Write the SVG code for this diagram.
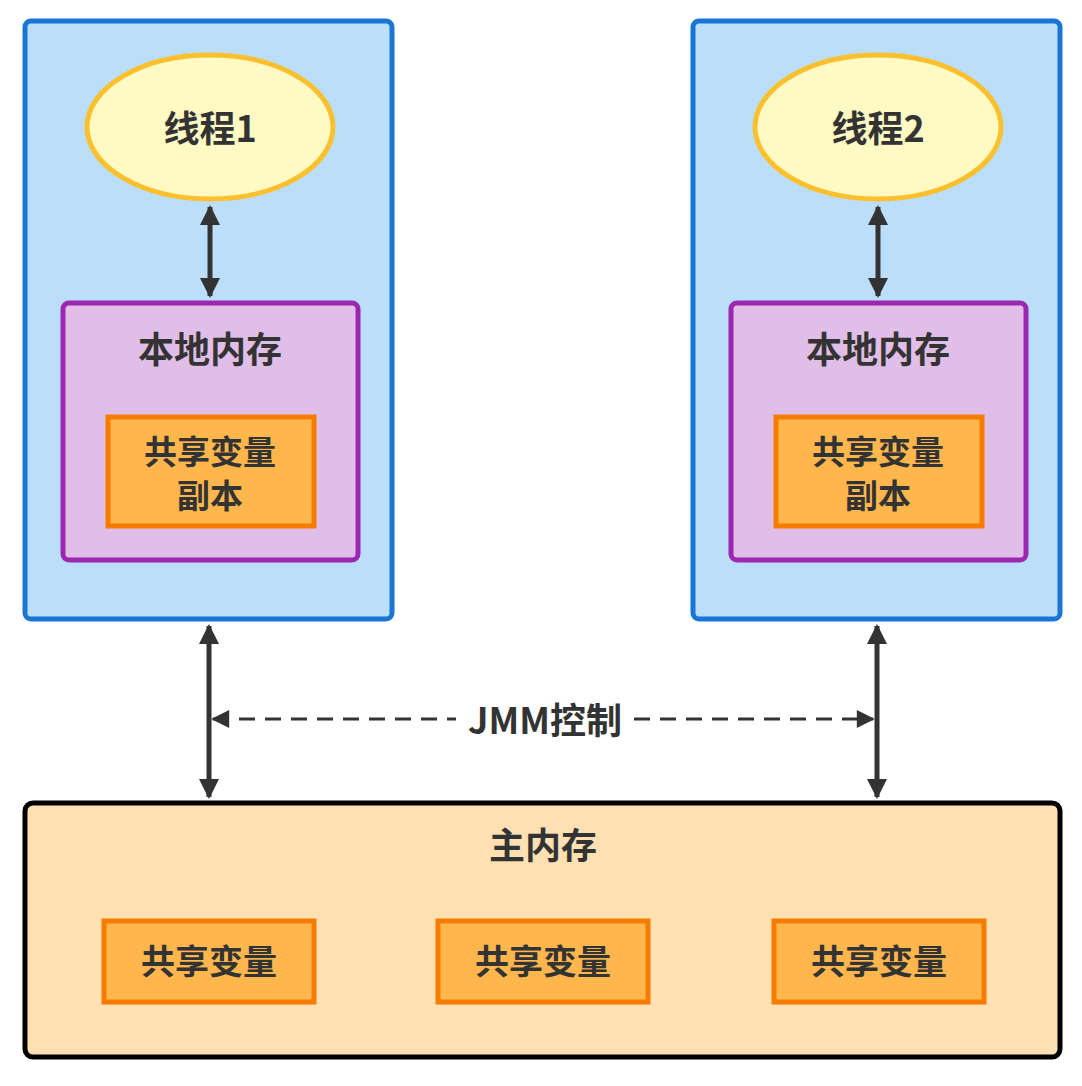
<svg xmlns="http://www.w3.org/2000/svg" width="1082" height="1086" viewBox="0 0 1082 1086">
<defs>
<style>
text{font-family:"Noto Sans CJK SC","Liberation Sans",sans-serif;font-weight:bold;fill:#333;text-anchor:middle;dominant-baseline:central}
.blue{fill:#bbdefb;stroke:#1976d2;stroke-width:5}
.purple{fill:#e1bee7;stroke:#9c27b0;stroke-width:5}
.org{fill:#ffb74d;stroke:#f57c00;stroke-width:5}
.ell{fill:#fff9c4;stroke:#fbc02d;stroke-width:5}
.ln{stroke:#333;stroke-width:5;fill:none}
.dash{stroke:#333;stroke-width:3;fill:none;stroke-dasharray:16 10}
</style>
<marker id="a" viewBox="0 0 10 10" refX="9" refY="5" markerWidth="4" markerHeight="4" orient="auto-start-reverse"><path d="M0,0L10,5L0,10z" fill="#333"/></marker>
<marker id="b" viewBox="0 0 10 10" refX="9" refY="5" markerWidth="8" markerHeight="6" orient="auto-start-reverse"><path d="M0,0L10,5L0,10z" fill="#333"/></marker>
</defs>
<g id="left">
<rect class="blue" x="25" y="21" width="367" height="598" rx="6"/>
<ellipse class="ell" cx="210" cy="127" rx="123" ry="72"/>
<text x="210" y="126" font-size="36">线程1</text>
<rect class="purple" x="63" y="303" width="295" height="257" rx="6"/>
<text x="210" y="347" font-size="36">本地内存</text>
<rect class="org" x="108" y="417" width="206" height="109"/>
<text x="210" y="450" font-size="33">共享变量</text>
<text x="210" y="494" font-size="33">副本</text>
</g>
<g id="right">
<rect class="blue" x="693" y="21" width="367" height="598" rx="6"/>
<ellipse class="ell" cx="878" cy="127" rx="123" ry="72"/>
<text x="878" y="126" font-size="36">线程2</text>
<rect class="purple" x="731" y="303" width="295" height="257" rx="6"/>
<text x="878" y="347" font-size="36">本地内存</text>
<rect class="org" x="776" y="417" width="206" height="109"/>
<text x="878" y="450" font-size="33">共享变量</text>
<text x="878" y="494" font-size="33">副本</text>
</g>
<g id="main">
<rect x="25" y="803" width="1035" height="254" rx="8" fill="#ffe0b2" stroke="#000" stroke-width="5"/>
<text x="543" y="843" font-size="36">主内存</text>
<rect class="org" x="104" y="921" width="210" height="81"/>
<text x="209" y="959" font-size="34">共享变量</text>
<rect class="org" x="438" y="921" width="210" height="81"/>
<text x="543" y="959" font-size="34">共享变量</text>
<rect class="org" x="774" y="921" width="210" height="81"/>
<text x="879" y="959" font-size="34">共享变量</text>
</g>
<g id="connectors">
<line class="ln" x1="210" y1="207" x2="210" y2="296" marker-start="url(#a)" marker-end="url(#a)"/>
<line class="ln" x1="878" y1="207" x2="878" y2="296" marker-start="url(#a)" marker-end="url(#a)"/>
<line class="ln" x1="209" y1="626" x2="209" y2="797" marker-start="url(#a)" marker-end="url(#a)"/>
<line class="ln" x1="877" y1="626" x2="877" y2="797" marker-start="url(#a)" marker-end="url(#a)"/>
<line class="dash" x1="213" y1="719" x2="456" y2="719" marker-start="url(#b)"/>
<line class="dash" x1="634" y1="719" x2="873" y2="719" marker-end="url(#b)"/>
<text x="545" y="718" font-size="36">JMM控制</text>
</g>
</svg>
